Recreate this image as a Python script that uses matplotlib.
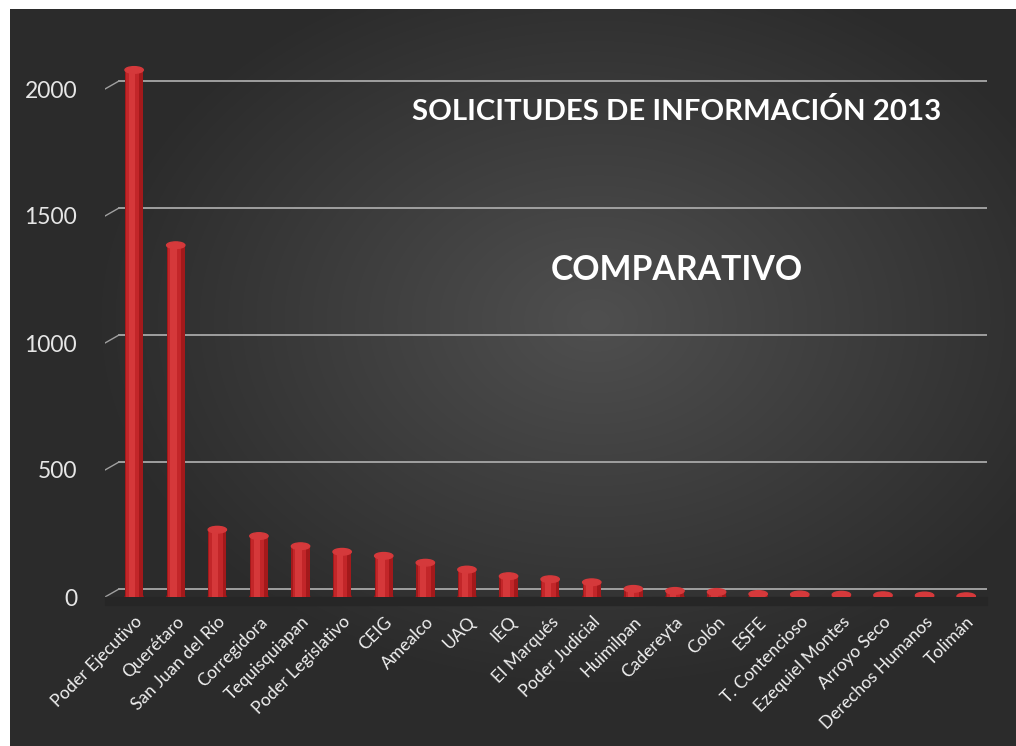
import numpy as np
import matplotlib.pyplot as plt
import matplotlib.transforms as mtransforms
from matplotlib.patches import Ellipse

# data
entidades = ["Poder Ejecutivo", "Querétaro", "San Juan del Río", "Corregidora",
             "Tequisquiapan", "Poder Legislativo", "CEIG", "Amealco", "UAQ", "IEQ",
             "El Marqués", "Poder Judicial", "Huimilpan", "Cadereyta", "Colón", "ESFE",
             "T. Contencioso", "Ezequiel Montes", "Arroyo Seco", "Derechos Humanos",
             "Tolimán"]
solicitudes = [2075, 1385, 265, 240, 200, 178, 162, 135, 108, 82,
               70, 58, 32, 24, 20, 12, 10, 9, 7, 6, 3]
yticks = [0, 500, 1000, 1500, 2000]

plt.rcParams['font.family'] = ['Lato', 'DejaVu Sans']

fig = plt.figure(figsize=(10.16, 7.46), dpi=100)
fig.patch.set_facecolor('white')

# dark panel with a soft radial gradient
bg = fig.add_axes([10/1016, 0, 1 - 10/1016, 1 - 9/746])
h, w = 200, 270
yy, xx = np.mgrid[0:h, 0:w]
cx, cy = 0.58 * w, 0.42 * h
r = np.sqrt(((xx - cx) / w) ** 2 + ((yy - cy) / h) ** 2)
shade = np.clip(0.31 - 0.28 * r, 0.17, 0.31)
bg.imshow(np.dstack([shade, shade, shade]), aspect='auto', extent=[0, 1, 0, 1],
          interpolation='bicubic')
bg.set_axis_off()

ax = fig.add_axes([105/1016, (746 - 597)/746, (987 - 105)/1016, 558.8/746])
ax.patch.set_alpha(0)
x = np.arange(len(entidades))
ax.set_xlim(-0.7, 20.5)
ax.set_ylim(0, 2200)

# back wall gridlines, shifted up/right for the 3d look
shift = ax.transData + mtransforms.ScaledTranslation(0.14, 0.08, fig.dpi_scale_trans)
for v in yticks:
    ax.plot([-0.7, 20.4], [v, v], color='#a8a8a8', lw=1.3, transform=shift, zorder=1)
    xa = ax.transData.transform((-0.7, v))
    xb = shift.transform((-0.7, v))
    ax.plot(*ax.transData.inverted().transform([xa, xb]).T, color='#a0a0a0', lw=1.0, zorder=1)

# floor shadow
ax.fill_between([-0.7, 20.5], -30, 0, color='#262626', zorder=1, clip_on=False)

# cylinder bars
bw = 0.44
cap = 26
ax.bar(x, solicitudes, width=bw, color='#a3191b', zorder=3)
ax.bar(x - 0.03, solicitudes, width=bw * 0.72, color='#c22629', zorder=3)
ax.bar(x - 0.05, solicitudes, width=bw * 0.35, color='#d5383a', zorder=3)
for xi, v in zip(x, solicitudes):
    ax.add_patch(Ellipse((xi, 0), bw, cap, color='#8e1517', zorder=2))
    ax.add_patch(Ellipse((xi, v), bw, cap, color='#d5393b', zorder=4))

ax.set_yticks(yticks)
ax.set_yticklabels([str(t) for t in yticks], color='#e6e6e6', fontsize=16.5)
ax.set_xticks(x)
ax.set_xticklabels(entidades, rotation=45, ha='right', rotation_mode='anchor',
                   color='#f0f0f0', fontsize=12.5)
ax.tick_params(axis='y', length=0, pad=20)
ax.tick_params(axis='x', length=0, pad=12)
for s in ax.spines.values():
    s.set_visible(False)

fig.text(677/1016, 1 - 112/746, "SOLICITUDES DE INFORMACIÓN 2013", color='white',
         fontsize=21.2, fontweight='bold', ha='center', va='center')
fig.text(677/1016, 1 - 270/746, "COMPARATIVO", color='white',
         fontsize=24.3, fontweight='bold', ha='center', va='center')

fig.savefig('out.png', dpi=100)
